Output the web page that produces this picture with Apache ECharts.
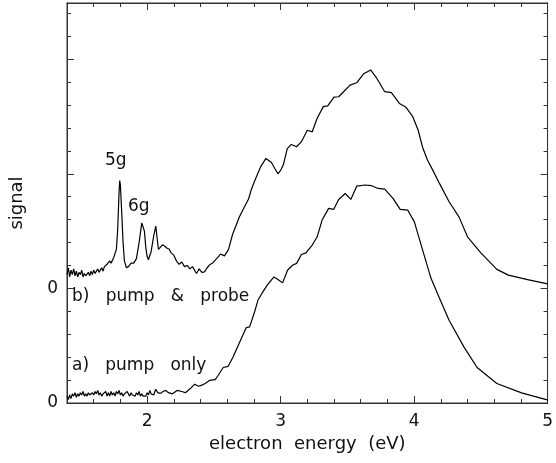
<!DOCTYPE html>
<html>
<head>
<meta charset="utf-8">
<script src="https://cdn.jsdelivr.net/npm/echarts@6/dist/echarts.min.js"></script>
<style>
html,body{margin:0;padding:0;background:#fff;}
#chart{width:556px;height:463px;}
</style>
</head>
<body>
<div id="chart"></div>
<script>
// ---- data (signal in tick units, each trace relative to its own zero) ----
const bEnergy = [1.40,1.41,1.42,1.43,1.44,1.45,1.46,1.47,1.48,1.49,1.50,1.51,1.52,1.53,1.54,1.55,1.56,1.57,1.58,1.59,1.60,1.61,1.62,1.63,1.64,1.65,1.66,1.67,1.68,1.69,1.70,1.72,1.73,1.75,1.76,1.77,1.78,1.79,1.795,1.80,1.81,1.82,1.83,1.845,1.86,1.88,1.90,1.92,1.94,1.96,1.97,1.98,1.99,2.00,2.01,2.03,2.05,2.065,2.075,2.085,2.10,2.115,2.13,2.15,2.165,2.18,2.20,2.22,2.24,2.26,2.28,2.30,2.32,2.34,2.36,2.37,2.39,2.41,2.43,2.45,2.47,2.49,2.51,2.53,2.55,2.58,2.61,2.64,2.67,2.69,2.72,2.76,2.78,2.81,2.85,2.89,2.93,2.96,2.98,3.00,3.02,3.05,3.08,3.12,3.156,3.20,3.237,3.274,3.32,3.353,3.40,3.435,3.472,3.52,3.57,3.62,3.674,3.72,3.78,3.83,3.89,3.94,3.99,4.03,4.064,4.10,4.14,4.19,4.26,4.336,4.40,4.50,4.62,4.706,4.85,5.00];
const bSignal = [0.6,0.9,0.5,0.8,0.6,0.85,0.55,0.75,0.5,0.7,0.6,0.8,0.5,0.65,0.55,0.5,0.7,0.55,0.75,0.6,0.8,0.65,0.6,0.85,0.7,0.65,0.9,0.75,0.95,1.0,1.05,1.2,1.1,1.35,1.4,1.7,2.6,4.2,4.7,4.5,3.3,2.0,1.2,0.9,0.95,1.1,1.1,1.3,2.0,2.85,2.9,2.5,1.8,1.4,1.25,1.6,2.3,2.72,2.2,1.7,1.8,1.9,1.85,1.75,1.72,1.55,1.45,1.2,1.05,1.15,0.95,1.0,0.85,0.95,0.75,0.65,0.85,0.7,0.72,0.9,1.04,1.1,1.23,1.35,1.5,1.42,1.7,2.35,2.8,3.1,3.45,3.9,4.3,4.75,5.3,5.67,5.5,5.2,5.0,5.15,5.38,6.1,6.28,6.18,6.4,6.9,6.83,7.42,7.93,7.96,8.34,8.36,8.58,8.87,8.97,9.35,9.53,9.17,8.58,8.54,8.07,7.9,7.49,6.91,6.15,5.6,5.16,4.58,3.8,3.12,2.25,1.55,0.83,0.58,0.38,0.2];
const bOffset = 5;

const aEnergy = [1.40,1.41,1.42,1.43,1.44,1.45,1.46,1.47,1.48,1.49,1.50,1.51,1.52,1.53,1.54,1.55,1.56,1.57,1.58,1.59,1.60,1.61,1.62,1.63,1.64,1.65,1.66,1.67,1.68,1.69,
  1.70,1.71,1.72,1.73,1.74,1.75,1.76,1.77,1.78,1.79,1.80,1.81,1.82,1.83,1.84,1.85,1.86,1.87,1.88,1.89,1.90,1.91,1.92,1.93,1.94,1.95,1.96,1.97,1.98,1.99,2.00,2.01,2.02,2.03,2.04,2.05,
  2.064,2.08,2.10,2.12,2.14,2.16,2.19,2.225,2.26,2.287,2.324,2.356,2.385,2.41,2.435,2.47,2.51,2.533,2.57,2.607,2.644,2.694,2.743,2.768,2.805,2.83,2.86,2.90,2.95,2.98,3.015,3.052,3.089,3.12,3.156,3.19,3.237,3.274,3.311,3.36,3.398,3.435,3.484,3.526,3.57,3.632,3.681,3.731,3.78,3.842,3.896,3.953,4.002,4.064,4.126,4.188,4.262,4.373,4.472,4.62,4.805,4.99,5.00];
const aSignal = [0.3,0.15,0.35,0.2,0.4,0.3,0.45,0.25,0.4,0.3,0.45,0.35,0.5,0.3,0.4,0.3,0.45,0.35,0.3,0.45,0.35,0.5,0.4,0.55,0.35,0.45,0.3,0.4,0.35,0.5,
  0.3,0.45,0.3,0.5,0.35,0.45,0.3,0.5,0.4,0.55,0.35,0.45,0.3,0.4,0.35,0.5,0.4,0.3,0.45,0.35,0.4,0.3,0.45,0.35,0.5,0.3,0.4,0.3,0.35,0.3,0.45,0.35,0.55,0.4,0.45,0.35,
  0.6,0.45,0.42,0.5,0.55,0.45,0.4,0.55,0.5,0.45,0.63,0.82,0.73,0.78,0.85,0.99,1.02,1.21,1.55,1.6,2.01,2.66,3.29,3.32,3.97,4.48,4.78,5.14,5.5,5.39,5.24,5.79,6.01,6.09,6.48,6.55,6.89,7.25,7.98,8.49,8.45,8.88,9.14,8.88,9.46,9.51,9.48,9.36,9.33,8.93,8.45,8.41,7.9,6.67,5.45,4.6,3.61,2.45,1.55,0.85,0.44,0.15,0.12];

const xMajorTicks = [2,3,4,5];
const xMinorTicks = [1.6,1.8,2.2,2.4,2.6,2.8,3.2,3.4,3.6,3.8,4.2,4.4,4.6,4.8];
const xTickLabels = ['2','3','4','5'];
const yMajorTicks = [0,5,10,15];
const yMinorTicks = [1,2,3,4,6,7,8,9,11,12,13,14,16,17];
const yLabelValues = [0,5];
const yTickLabels = ['0','0'];

const xMin = 1.4, xMax = 5.0, yMin = 0, yMax = 17.45;

// ---- chart ----
const FONT = 'DejaVu Sans';
const INK = '#111';
const chart = echarts.init(document.getElementById('chart'), null, {renderer:'canvas'});

function xAx(pos, ticks, len, labels){
  return {
    type:'value', position:pos, min:xMin, max:xMax,
    axisLine:{show:true, onZero:false, lineStyle:{color:'#333', width:1}},
    axisTick:{show:true, inside:true, length:len, customValues:ticks, lineStyle:{color:'#333', width:1}},
    axisLabel:labels ? {show:true, customValues:xMajorTicks, margin:10,
       formatter:function(v){ const i = xMajorTicks.findIndex(t=>Math.abs(t-v)<1e-6); return i>=0 ? xTickLabels[i] : ''; },
       color:INK, fontFamily:FONT, fontSize:17} : {show:false},
    splitLine:{show:false}
  };
}
function yAx(pos, ticks, len, labels){
  return {
    type:'value', position:pos, min:yMin, max:yMax,
    axisLine:{show:true, onZero:false, lineStyle:{color:'#333', width:1}},
    axisTick:{show:true, inside:true, length:len, customValues:ticks, lineStyle:{color:'#333', width:1}},
    axisLabel:labels ? {show:true, customValues:yLabelValues, margin:9,
       formatter:function(v){ const i = yLabelValues.findIndex(t=>Math.abs(t-v)<1e-6); return i>=0 ? yTickLabels[i] : ''; },
       color:INK, fontFamily:FONT, fontSize:17} : {show:false},
    splitLine:{show:false}
  };
}

const xAxes = [xAx('bottom', xMajorTicks, 7, true), xAx('bottom', xMinorTicks, 4, false), xAx('top', xMajorTicks, 7, false), xAx('top', xMinorTicks, 4, false)];
xAxes[0].name = 'electron  energy  (eV)';
xAxes[0].nameLocation = 'middle';
xAxes[0].nameGap = 30;
xAxes[0].nameTextStyle = {color:INK, fontFamily:FONT, fontSize:18};
const yAxes = [yAx('left', yMajorTicks, 7, true), yAx('left', yMinorTicks, 4, false), yAx('right', yMajorTicks, 7, false), yAx('right', yMinorTicks, 4, false)];
yAxes[0].name = 'signal';
yAxes[0].nameLocation = 'middle';
yAxes[0].nameGap = 41;
yAxes[0].nameTextStyle = {color:INK, fontFamily:FONT, fontSize:18};

const lineStyle = {color:'#000', width:1.2};
chart.setOption({
  animation:false,
  backgroundColor:'#fff',
  grid:{left:67, right:4, top:3, bottom:60, show:true, borderColor:'#333', borderWidth:1, containLabel:false},
  xAxis:xAxes,
  yAxis:yAxes,
  series:[
    {type:'line', name:'b) pump & probe', xAxisIndex:0, yAxisIndex:0, showSymbol:false, symbol:'none', lineStyle:lineStyle,
     data:bEnergy.map((e,i)=>[e, bSignal[i] + bOffset])},
    {type:'line', name:'a) pump only', xAxisIndex:0, yAxisIndex:0, showSymbol:false, symbol:'none', lineStyle:lineStyle,
     data:aEnergy.map((e,i)=>[e, aSignal[i]])}
  ],
  graphic:[
    {type:'text', left:105, top:152, style:{text:'5g', fill:INK, font:'17px "DejaVu Sans"'}},
    {type:'text', left:128, top:198, style:{text:'6g', fill:INK, font:'17px "DejaVu Sans"'}},
    {type:'text', left:72, top:288, style:{text:'b)   pump   &   probe', fill:INK, font:'17px "DejaVu Sans"'}},
    {type:'text', left:72, top:357, style:{text:'a)   pump   only', fill:INK, font:'17px "DejaVu Sans"'}}
  ]
});
</script>
</body>
</html>
